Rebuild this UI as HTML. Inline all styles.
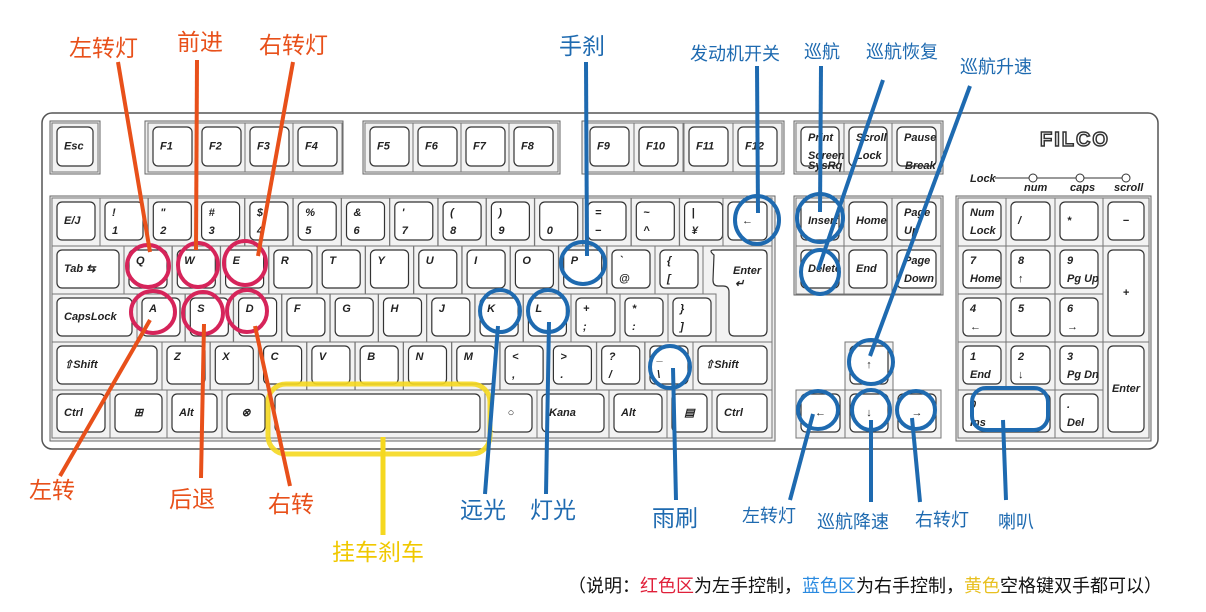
<!DOCTYPE html>
<html><head><meta charset="utf-8">
<style>
html,body{margin:0;padding:0;background:#fff;}
svg{display:block;}
.k{font-family:"Liberation Sans",sans-serif;font-style:italic;font-size:11px;font-weight:bold;fill:#222;}
.c{font-family:"Liberation Sans","Noto Sans CJK SC",sans-serif;}
</style></head>
<body>
<svg id="s" width="1206" height="612" viewBox="0 0 1206 612" xmlns="http://www.w3.org/2000/svg">
<rect x="42" y="113" width="1116" height="336" rx="10" fill="#fff" stroke="#555" stroke-width="1.5"/>
<rect x="50" y="196" width="725" height="245" fill="#eee" stroke="#666"/>
<rect x="794" y="196" width="149" height="99" fill="#eee" stroke="#666"/>
<rect x="956" y="196" width="195" height="245" fill="#eee" stroke="#666"/>
<rect x="50" y="121" width="50" height="53" fill="#eee" stroke="#666"/>
<rect x="145" y="121" width="198" height="53" fill="#eee" stroke="#666"/>
<rect x="363" y="121" width="197" height="53" fill="#eee" stroke="#666"/>
<rect x="582" y="121" width="202" height="53" fill="#eee" stroke="#666"/>
<rect x="794" y="121" width="149" height="53" fill="#eee" stroke="#666"/>
<g id="keys"></g>
<text x="1040" y="146" font-family="Liberation Sans" font-weight="bold" font-size="20" fill="#fff" stroke="#333" stroke-width="1.5" letter-spacing="2">FILCO</text>
<g class="k" font-size="9">
<text x="970" y="182">Lock</text>
<line x1="995" y1="178" x2="1128" y2="178" stroke="#333"/>
<circle cx="1033" cy="178" r="4" fill="#fff" stroke="#333"/>
<circle cx="1080" cy="178" r="4" fill="#fff" stroke="#333"/>
<circle cx="1126" cy="178" r="4" fill="#fff" stroke="#333"/>
<text x="1024" y="191">num</text><text x="1070" y="191">caps</text><text x="1114" y="191">scroll</text>
</g>
<g fill="none" stroke="#d6245a" stroke-width="4">
<ellipse cx="148" cy="266" rx="21" ry="21"/>
<ellipse cx="198" cy="265" rx="20" ry="22"/>
<ellipse cx="245" cy="263" rx="21" ry="22"/>
<ellipse cx="153" cy="312" rx="22" ry="21"/>
<ellipse cx="203" cy="313" rx="20" ry="21"/>
<ellipse cx="247" cy="311" rx="20" ry="21"/>
</g>
<rect x="268" y="384" width="222" height="70" rx="18" fill="none" stroke="#f5d820" stroke-width="5" opacity="0.9"/>
<line x1="383" y1="437" x2="383" y2="535" stroke="#f5d820" stroke-width="5"/>
<g fill="none" stroke="#1e6ab0" stroke-width="4">
<ellipse cx="583" cy="263" rx="22" ry="21"/>
<ellipse cx="500" cy="311" rx="20" ry="21"/>
<ellipse cx="548" cy="311" rx="20" ry="21"/>
<ellipse cx="670" cy="367" rx="20" ry="21"/>
<ellipse cx="757" cy="220" rx="22" ry="24"/>
<ellipse cx="820" cy="218" rx="23" ry="24"/>
<ellipse cx="820" cy="272" rx="19" ry="22"/>
<ellipse cx="871" cy="362" rx="22" ry="22"/>
<ellipse cx="818" cy="410" rx="20" ry="19"/>
<ellipse cx="871" cy="410" rx="19" ry="20"/>
<ellipse cx="916" cy="410" rx="19" ry="19"/>
<rect x="972" y="388" width="76" height="42" rx="14"/>
</g>
<g stroke="#e8501a" stroke-width="4">
<line x1="118" y1="62" x2="150" y2="252"/>
<line x1="197" y1="60" x2="196" y2="250"/>
<line x1="293" y1="62" x2="258" y2="256"/>
<line x1="60" y1="476" x2="150" y2="320"/>
<line x1="201" y1="478" x2="204" y2="324"/>
<line x1="290" y1="486" x2="255" y2="326"/>
</g>
<g stroke="#1e6ab0" stroke-width="4">
<line x1="586" y1="62" x2="587" y2="256"/>
<line x1="485" y1="494" x2="498" y2="326"/>
<line x1="546" y1="494" x2="549" y2="322"/>
<line x1="676" y1="500" x2="673" y2="368"/>
<line x1="757" y1="66" x2="758" y2="213"/>
<line x1="821" y1="66" x2="820" y2="212"/>
<line x1="883" y1="80" x2="818" y2="270"/>
<line x1="970" y1="86" x2="870" y2="356"/>
<line x1="790" y1="500" x2="813" y2="414"/>
<line x1="871" y1="502" x2="871" y2="420"/>
<line x1="920" y1="502" x2="912" y2="418"/>
<line x1="1006" y1="500" x2="1003" y2="420"/>
</g>
<g class="c" font-size="23" fill="#e8501a">
<text x="69" y="56">左转灯</text>
<text x="177" y="50">前进</text>
<text x="259" y="53">右转灯</text>
<text x="29" y="498">左转</text>
<text x="169" y="507">后退</text>
<text x="268" y="512">右转</text>
</g>
<text class="c" x="332" y="560" font-size="23" fill="#f0c800">挂车刹车</text>
<g class="c" font-size="23" fill="#1e6ab0">
<text x="559" y="54">手刹</text>
<text x="460" y="518">远光</text>
<text x="530" y="518">灯光</text>
<text x="652" y="526">雨刷</text>
</g>
<g class="c" font-size="18" fill="#1e6ab0">
<text x="690" y="60">发动机开关</text>
<text x="804" y="58">巡航</text>
<text x="866" y="58">巡航恢复</text>
<text x="960" y="73">巡航升速</text>
<text x="742" y="522">左转灯</text>
<text x="817" y="528">巡航降速</text>
<text x="915" y="526">右转灯</text>
<text x="998" y="528">喇叭</text>
</g>
<text class="c" x="568" y="592" font-size="18" fill="#111">（说明：<tspan fill="#e0203a">红色区</tspan>为左手控制，<tspan fill="#2a8ae0">蓝色区</tspan>为右手控制，<tspan fill="#e8c020">黄色</tspan>空格键双手都可以）</text>
</svg>
<script>
var g=document.getElementById('keys'),NS='http://www.w3.org/2000/svg';
function el(n,a,t){var e=document.createElementNS(NS,n);for(var k in a)e.setAttribute(k,a[k]);if(t)e.textContent=t;g.appendChild(e);return e;}
function key(x1,y1,x2,y2,t,b,m){
 el('rect',{x:x1,y:y1,width:x2-x1,height:y2-y1,fill:'#f2f2f2',stroke:'#777','stroke-width':1});
 el('rect',{x:x1+5,y:y1+4,width:x2-x1-10,height:y2-y1-10,rx:5,fill:'#fff',stroke:'#333','stroke-width':1.2});
 if(m==='c'){ if(t)el('text',{x:(x1+x2)/2,y:(y1+y2)/2+2,'text-anchor':'middle','class':'k'},t);}
 else if(m==='m'){ if(t)el('text',{x:x1+12,y:(y1+y2)/2+2,'class':'k'},t);}
 else{ if(t)el('text',{x:x1+12,y:y1+18,'class':'k'},t); if(b)el('text',{x:x1+12,y:y1+36,'class':'k'},b);}
}
key(52,123,98,172,'Esc','', 'm');
var f=[['F1',148],['F2',197],['F3',245],['F4',293],['F5',365],['F6',413],['F7',461],['F8',509],['F9',585],['F10',634],['F11',684],['F12',733]];
f.forEach(function(a){key(a[1],123,a[1]+49,172,a[0],'','m');});
key(796,123,844,172,'Print','Screen');key(844,123,892,172,'Scroll','Lock');key(892,123,941,172,'Pause','');
el('text',{x:905,y:169,'class':'k','font-size':8},'Break');el('text',{x:808,y:169,'class':'k','font-size':8},'SysRq');
var y1=198,y2=246;
key(52,y1,100,y2,'E/J','','m');
var nr=[['!','1'],['"','2'],['#','3'],['$','4'],['%','5'],['&','6'],["'",'7'],['(','8'],[')','9'],['','0'],['=','−'],['~','^'],['|','¥']];
nr.forEach(function(a,i){key(100+i*48.3,y1,148+i*48.3,y2,a[0],a[1]);});
key(723,y1,772,y2,'←','','c');
key(796,y1,844,y2,'Insert','','m');key(844,y1,892,y2,'Home','','m');key(892,y1,941,y2,'Page','Up');
key(958,y1,1006,y2,'Num','Lock');key(1006,y1,1055,y2,'/','','m');key(1055,y1,1103,y2,'*','','m');key(1103,y1,1149,y2,'−','','c');
y1=246;y2=294;
key(52,y1,124,y2,'Tab ⇆','','m');
'QWERTYUIOP'.split('').forEach(function(c,i){key(124+i*48.3,y1,172+i*48.3,y2,c,'');});
key(607,y1,655,y2,'`','@');key(655,y1,703,y2,'{','[');
key(796,y1,844,y2,'Delete','','m');key(844,y1,892,y2,'End','','m');key(892,y1,941,y2,'Page','Down');
key(958,y1,1006,y2,'7','Home');key(1006,y1,1055,y2,'8','↑');key(1055,y1,1103,y2,'9','Pg Up');
y1=294;y2=342;
key(52,y1,137,y2,'CapsLock','','m');
'ASDFGHJKL'.split('').forEach(function(c,i){key(137+i*48.3,y1,185+i*48.3,y2,c,'');});
key(571,y1,620,y2,'+',';');key(620,y1,668,y2,'*',':');key(668,y1,716,y2,'}',']');
key(958,y1,1006,y2,'4','←');key(1006,y1,1055,y2,'5','');key(1055,y1,1103,y2,'6','→');
el('path',{d:'M703 246 H772 V342 H716 V294 H703 Z',fill:'#f2f2f2',stroke:'#777'});
el('path',{d:'M714 255 Q708 250 714 250 H762 Q767 250 767 255 V330 Q767 336 761 336 H734 Q729 336 729 330 V292 Q729 286 723 286 H718 Q713 286 713 280 Z',fill:'#fff',stroke:'#333','stroke-width':1.2});
el('text',{x:733,y:274,'class':'k'},'Enter');el('text',{x:735,y:287,'class':'k'},'↵');
key(1103,246,1149,342,'+','','c');
y1=342;y2=390;
key(52,y1,162,y2,'⇧Shift','','m');
var sr=[['Z',''],['X',''],['C',''],['V',''],['B',''],['N',''],['M',''],['<',','],['>','.'],['?','/'],['_','\\']];
sr.forEach(function(a,i){key(162+i*48.3,y1,210+i*48.3,y2,a[0],a[1]);});
key(693,y1,772,y2,'⇧Shift','','m');
key(845,y1,893,y2,'↑','','c');
key(958,y1,1006,y2,'1','End');key(1006,y1,1055,y2,'2','↓');key(1055,y1,1103,y2,'3','Pg Dn');
key(1103,342,1149,438,'Enter','','c');
y1=390;y2=438;
key(52,y1,110,y2,'Ctrl','','m');key(110,y1,167,y2,'⊞','','c');key(167,y1,222,y2,'Alt','','m');key(222,y1,270,y2,'⊗','','c');
key(270,y1,485,y2,'','','m');key(485,y1,537,y2,'○','','c');key(537,y1,609,y2,'Kana','','m');key(609,y1,667,y2,'Alt','','m');
key(667,y1,712,y2,'▤','','c');key(712,y1,772,y2,'Ctrl','','m');
key(796,y1,845,y2,'←','','c');key(845,y1,893,y2,'↓','','c');key(893,y1,941,y2,'→','','c');
key(958,y1,1055,y2,'0','Ins');key(1055,y1,1103,y2,'.','Del');
</script>
</body></html>
